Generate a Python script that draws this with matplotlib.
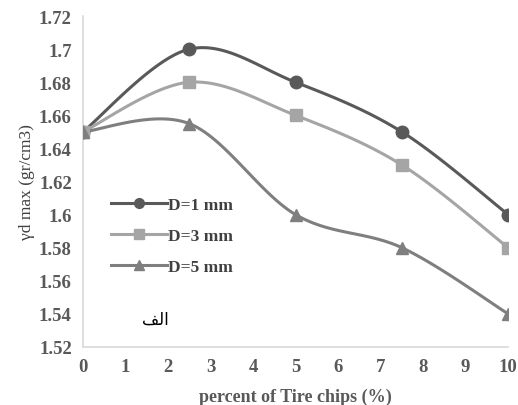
import numpy as np
import matplotlib.pyplot as plt

# percent of tire chips
x = [0, 2.5, 5, 7.5, 10]
d1 = [1.65, 1.70, 1.68, 1.65, 1.60]
d3 = [1.65, 1.68, 1.66, 1.63, 1.58]
d5 = [1.65, 1.655, 1.60, 1.58, 1.54]
labels = ["D=1 mm", "D=3 mm", "D=5 mm"]
yticks = [1.52, 1.54, 1.56, 1.58, 1.6, 1.62, 1.64, 1.66, 1.68, 1.7, 1.72]
ytick_labels = ["1.52", "1.54", "1.56", "1.58", "1.6", "1.62", "1.64", "1.66", "1.68", "1.7", "1.72"]


def smooth(xs, ys, n=30):
    """Catmull-Rom style curve through the points (like Excel smoothed lines)."""
    xs = np.asarray(xs, float)
    ys = np.asarray(ys, float)
    px = np.concatenate([[xs[0]], xs, [xs[-1]]])
    py = np.concatenate([[ys[0]], ys, [ys[-1]]])
    outx, outy = [], []
    for i in range(1, len(px) - 2):
        p0x, p1x, p2x, p3x = px[i - 1:i + 3]
        p0y, p1y, p2y, p3y = py[i - 1:i + 3]
        t = np.linspace(0, 1, n)
        # bezier control points
        c1x = p1x + (p2x - p0x) / 6
        c1y = p1y + (p2y - p0y) / 6
        c2x = p2x - (p3x - p1x) / 6
        c2y = p2y - (p3y - p1y) / 6
        bx = (1 - t) ** 3 * p1x + 3 * (1 - t) ** 2 * t * c1x + 3 * (1 - t) * t ** 2 * c2x + t ** 3 * p2x
        by = (1 - t) ** 3 * p1y + 3 * (1 - t) ** 2 * t * c1y + 3 * (1 - t) * t ** 2 * c2y + t ** 3 * p2y
        outx.extend(bx)
        outy.extend(by)
    return outx, outy


plt.rcParams['font.family'] = ['Liberation Serif', 'DejaVu Sans']

fig = plt.figure(figsize=(5.18, 4.06), dpi=100)
ax = fig.add_axes([0.160, 0.143, 0.821, 0.815])

series = [(d1, "#595959", "o"), (d3, "#A5A5A5", "s"), (d5, "#7F7F7F", "^")]
for (ys, color, marker), lab in zip(series, labels):
    sx, sy = smooth(x, ys)
    ax.plot(sx, sy, color=color, lw=2.2, zorder=2)
    ax.plot(x, ys, color=color, lw=0, marker=marker, markersize=9, zorder=3)
    ax.plot([], [], color=color, lw=2.2, marker=marker, markersize=7, label=lab)

ax.set_xlim(0, 10)
ax.set_ylim(1.52, 1.72)
ax.set_xticks(range(0, 11))
ax.set_yticks(yticks)
ax.set_yticklabels(ytick_labels)
ax.tick_params(length=0, labelsize=13.5, colors="#595959", pad=8)
for lbl in ax.get_xticklabels() + ax.get_yticklabels():
    lbl.set_fontweight("bold")

for s in ["top", "right"]:
    ax.spines[s].set_visible(False)
for s in ["left", "bottom"]:
    ax.spines[s].set_color("#D9D9D9")
    ax.spines[s].set_linewidth(1.2)

ax.set_xlabel("percent of Tire chips (%)", fontsize=13, fontweight="bold", color="#595959", labelpad=9)
ax.set_ylabel("γd max (gr/cm3)", fontsize=12.5, color="#404040", labelpad=3)

leg = ax.legend(loc="upper left", bbox_to_anchor=(0.03, 0.50), frameon=False,
                prop={"weight": "bold", "size": 12.5}, handlelength=3.2,
                labelspacing=0.85, handletextpad=0.05)
for t in leg.get_texts():
    t.set_color("#404040")

# Arabic label "الف" written with presentation forms so the letters join
ax.text(1.7, 1.537, "\uFED2\uFEDF\uFE8D", fontsize=12, family=["DejaVu Sans"],
        color="black", ha="center", va="center")

fig.savefig("out.png", dpi=100)
